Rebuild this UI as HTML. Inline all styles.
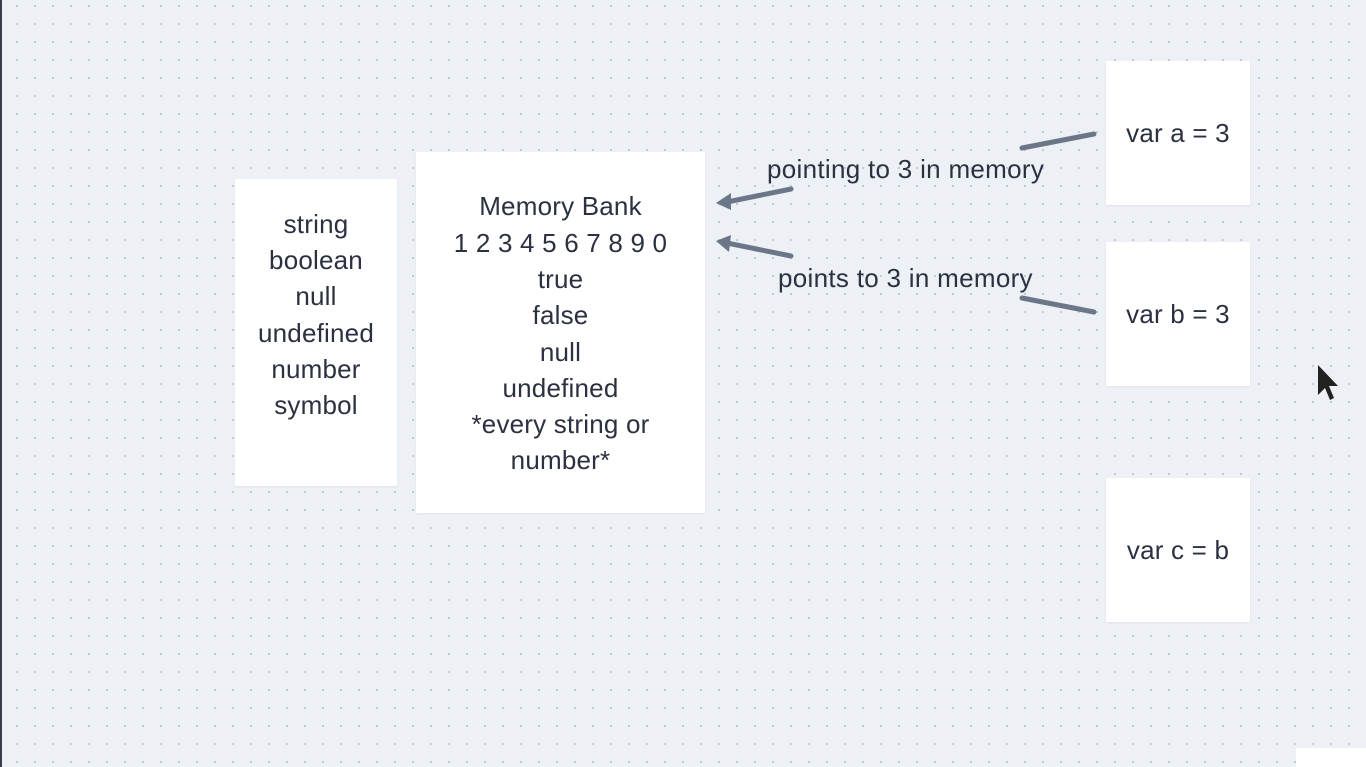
<!DOCTYPE html>
<html><head><meta charset="utf-8"><style>
html,body{margin:0;padding:0}
body{width:1366px;height:767px;overflow:hidden;position:relative;background-color:#edf0f5;
background-image:radial-gradient(circle,#c3c8d3 1px,transparent 1.3px);background-size:18px 18px;background-position:8px -3px;
font-family:"Liberation Sans","DejaVu Sans",sans-serif;color:#2b3140}
.card{position:absolute;background:#fff;box-shadow:0 1px 2px rgba(0,0,0,.06);text-align:center;font-size:26px;letter-spacing:0.2px;line-height:36.3px;display:flex;flex-direction:column;justify-content:center;box-sizing:border-box}
.lbl{position:absolute;font-size:26px;letter-spacing:0.3px;white-space:nowrap}
</style></head><body>
<div style="position:absolute;left:0;top:0;width:2px;height:767px;background:#3a3f4a"></div>
<div class="card" style="left:235px;top:179px;width:162px;height:307px;padding-bottom:36px">
<div>string</div><div>boolean</div><div>null</div><div>undefined</div><div>number</div><div>symbol</div></div>
<div class="card" style="left:416px;top:152px;width:289px;height:361px;padding-top:2px">
<div>Memory Bank</div><div>1 2 3 4 5 6 7 8 9 0</div><div>true</div><div>false</div><div>null</div><div>undefined</div><div>*every string or</div><div>number*</div></div>
<div class="card" style="left:1106px;top:61px;width:144px;height:144px">var a = 3</div>
<div class="card" style="left:1106px;top:242px;width:144px;height:144px">var b = 3</div>
<div class="card" style="left:1106px;top:478px;width:144px;height:144px">var c = b</div>
<div style="position:absolute;left:1296px;top:748px;width:70px;height:19px;background:#fff"></div>
<div class="lbl" style="left:767px;top:154px">pointing to 3 in memory</div>
<div class="lbl" style="left:778px;top:263px">points to 3 in memory</div>
<svg width="1366" height="767" style="position:absolute;left:0;top:0">
<g stroke="#6b7789" stroke-width="5" stroke-linecap="round" fill="none">
<line x1="1022" y1="148" x2="1094" y2="134"/>
<line x1="1022" y1="298" x2="1094" y2="312"/>
<line x1="791" y1="189" x2="722" y2="203"/>
<line x1="791" y1="256" x2="722" y2="242"/>
</g>
<g fill="#6b7789">
<polygon points="716,203 731,193 731,210"/>
<polygon points="716,241 731,235 729,252"/>
</g>
<path d="M1318 365 L1318 395 L1325 388 L1330 400 L1334 398 L1329 386 L1338 386 Z" fill="#222"/>
</svg>
</body></html>
